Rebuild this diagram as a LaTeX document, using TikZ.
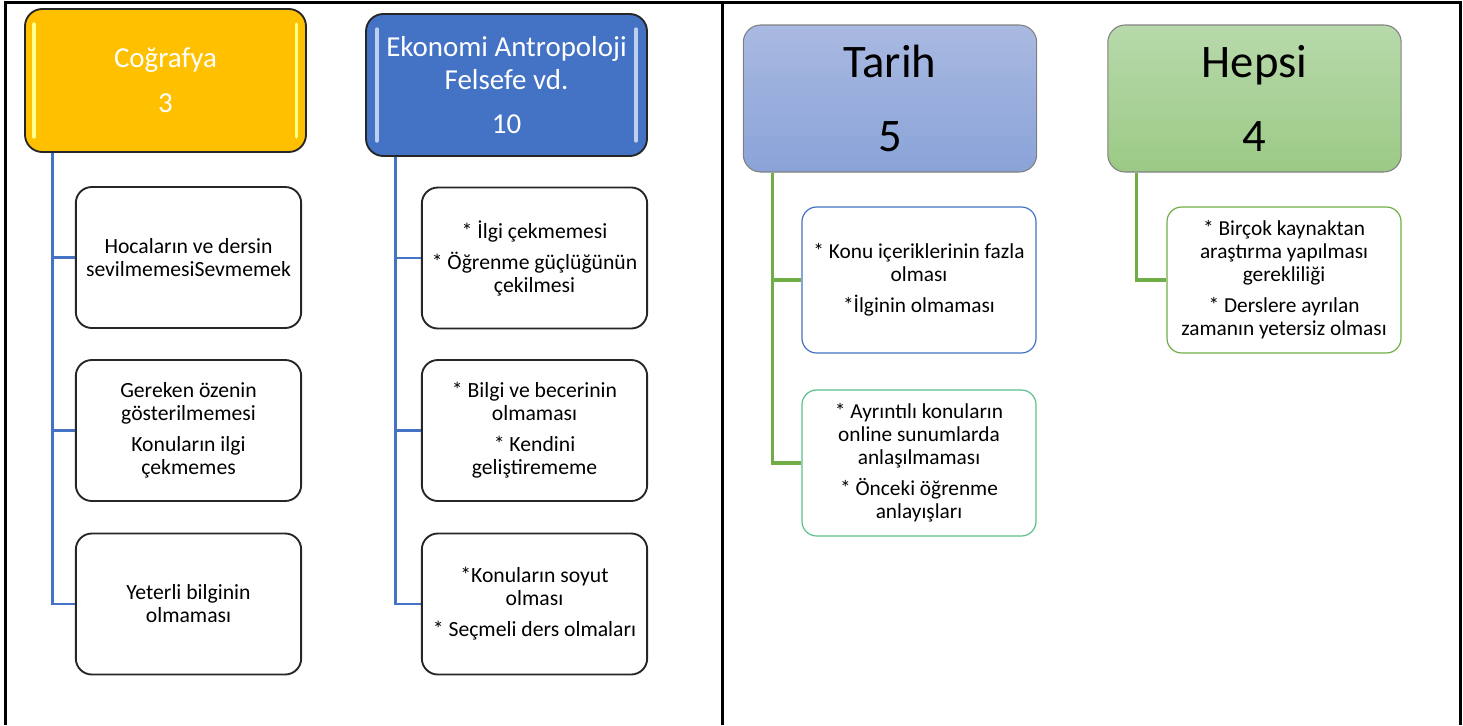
\documentclass[tikz,border=0pt]{standalone}
\usepackage{fontspec}
\setmainfont{Carlito}
\definecolor{gold}{HTML}{FFC000}
\definecolor{royal}{HTML}{4472C4}
\definecolor{leaf}{HTML}{70AD47}
\definecolor{sea}{HTML}{5BBF8C}
\definecolor{glintgold}{HTML}{FFFF8C}
\definecolor{glintblue}{HTML}{BDD0EE}
\definecolor{tartop}{HTML}{A9B9E1}
\definecolor{tarbot}{HTML}{8AA3D8}
\definecolor{heptop}{HTML}{B8D9AB}
\definecolor{hepbot}{HTML}{9BCA85}
\begin{document}
\begin{tikzpicture}[x=0.75pt, y=-0.75pt,
	frame/.style={line width=2.25pt},
	gloss/.style={rectangle, rounded corners=13pt, draw=black!85, line width=1.4pt, text=white, align=center, font=\fontsize{21.7}{24.75}\selectfont, minimum width=210.75pt},
	plain/.style={rectangle, rounded corners=12pt, draw=black!85, line width=1.4pt, fill=white, align=center, font=\fontsize{16.25}{17.25}\selectfont, minimum width=169pt, minimum height=105.75pt},
	soft/.style={rectangle, rounded corners=13pt, draw=black!50, line width=0.8pt, align=center, font=\fontsize{35}{42}\selectfont, minimum width=220pt, minimum height=110.25pt},
	thin/.style={rectangle, rounded corners=11pt, line width=0.9pt, fill=white, align=center, font=\fontsize{16}{17.25}\selectfont, minimum width=175.5pt, minimum height=109.5pt},
	bluelink/.style={draw=royal, line width=2.2pt},
	greenlink/.style={draw=leaf, line width=2.4pt},
	glint/.style={line width=2.6pt, line cap=round}]
	\useasboundingbox (0,0) rectangle (1463,725);
	% frame
	\draw[frame] (5,725) -- (5,2.5) -- (1460,2.5) -- (1460,725);
	\draw[frame] (722.5,2.5) -- (722.5,725);

	% left half
	\node (cog) at (165.5, 80.5)	[gloss, fill=gold, minimum height=107.25pt]	{Coğrafya\\[9pt]3};
	\node (eko) at (506.5, 85)	[gloss, fill=royal, minimum height=106.5pt]	{Ekonomi Antropoloji\\Felsefe vd.\\[8pt]10};
	\draw[glint, glintgold] ([xshift=7.5pt,yshift=-12pt]cog.north west) -- ([xshift=7.5pt,yshift=12pt]cog.south west);
	\draw[glint, glintgold] ([xshift=-8pt,yshift=-12pt]cog.north east) -- ([xshift=-8pt,yshift=12pt]cog.south east);
	\draw[glint, glintblue] ([xshift=9pt,yshift=-12pt]eko.north west) -- ([xshift=9pt,yshift=12pt]eko.south west);
	\draw[glint, glintblue] ([xshift=-9pt,yshift=-12pt]eko.north east) -- ([xshift=-9pt,yshift=12pt]eko.south east);

	\node (cog1) at (188.5, 257.5)	[plain]	{Hocaların ve dersin\\sevilmemesiSevmemek};
	\node (cog2) at (188.5, 430.5)	[plain]	{Gereken özenin\\gösterilmemesi\\[6pt]Konuların ilgi\\çekmemes};
	\node (cog3) at (188.5, 604)	[plain]	{Yeterli bilginin\\olmaması};
	\node (eko1) at (534.5, 258)	[plain]	{* İlgi çekmemesi\\[6pt]* Öğrenme güçlüğünün\\çekilmesi};
	\node (eko2) at (534.5, 430.5)	[plain]	{* Bilgi ve becerinin\\olmaması\\[6pt]* Kendini\\geliştirememe};
	\node (eko3) at (534.5, 604)	[plain]	{*Konuların soyut\\olması\\[6pt]* Seçmeli ders olmaları};

	\draw[bluelink] ([xshift=21pt]cog.south west) |- (cog1.west);
	\draw[bluelink] ([xshift=21pt]cog.south west) |- (cog2.west);
	\draw[bluelink] ([xshift=21pt]cog.south west) |- (cog3.west);
	\draw[bluelink] ([xshift=22.5pt]eko.south west) |- (eko1.west);
	\draw[bluelink] ([xshift=22.5pt]eko.south west) |- (eko2.west);
	\draw[bluelink] ([xshift=22.5pt]eko.south west) |- (eko3.west);

	% right half
	\node (tar) at (890, 98.5)	[soft, top color=tartop, bottom color=tarbot]	{Tarih\\[13pt]5};
	\node (hep) at (1254.5, 98.5)	[soft, top color=heptop, bottom color=hepbot]	{Hepsi\\[13pt]4};

	\node (tar1) at (919, 280)	[thin, draw=royal]	{* Konu içeriklerinin fazla\\olması\\[6pt]*İlginin olmaması};
	\node (tar2) at (919, 463)	[thin, draw=sea]	{* Ayrıntılı konuların\\online sunumlarda\\anlaşılmaması\\[6pt]* Önceki öğrenme\\anlayışları};
	\node (hep1) at (1284, 280)	[thin, draw=leaf]	{* Birçok kaynaktan\\araştırma yapılması\\gerekliliği\\[6pt]* Derslere ayrılan\\zamanın yetersiz olması};

	\draw[greenlink] ([xshift=22.5pt]tar.south west) |- (tar1.west);
	\draw[greenlink] ([xshift=22.5pt]tar.south west) |- (tar2.west);
	\draw[greenlink] ([xshift=21.75pt]hep.south west) |- (hep1.west);
\end{tikzpicture}
\end{document}
